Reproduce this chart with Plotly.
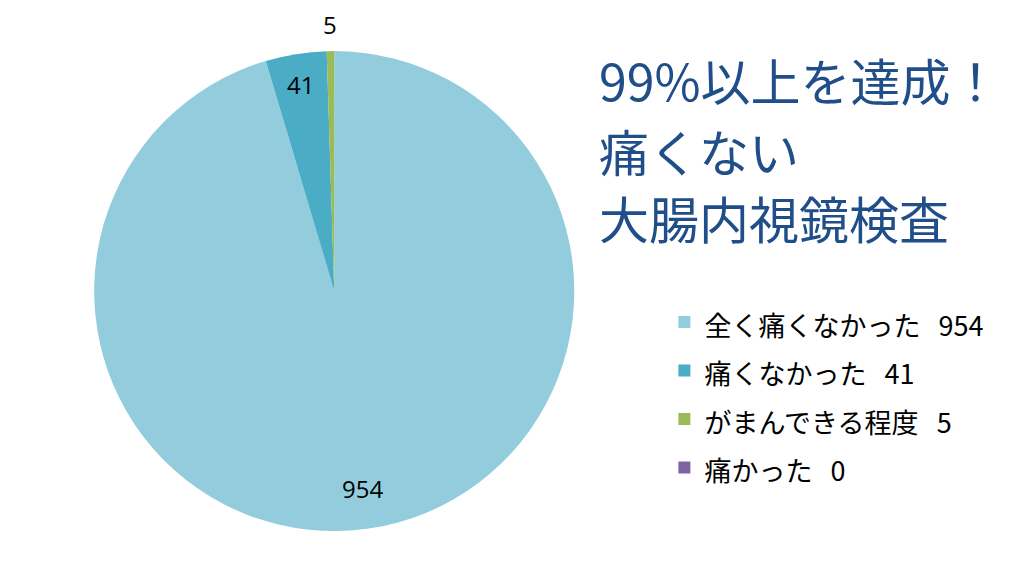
import math
import plotly.graph_objects as go

categories = ["全く痛くなかった", "痛くなかった", "がまんできる程度", "痛かった"]
values = [954, 41, 5, 0]
colors = ["#93CDDD", "#4BACC6", "#9BBB59", "#8064A2"]
label_radius = [0.83, 0.87, 1.11, None]   # where each slice's number sits (fraction of radius)
title_lines = ["99%以上を達成！", "痛くない", "大腸内視鏡検査"]

W, H = 1019, 583
NBSP = "\u00a0"
legend_labels = [
    f'<span style="font-size:27px">{c}{NBSP*3}{v}</span>' for c, v in zip(categories, values)
]

dom_x = [0.092, 0.564]
dom_y = [0.089, 0.9125]

fig = go.Figure()
fig.add_trace(go.Pie(
    labels=legend_labels,
    values=values,
    textinfo="none",
    marker=dict(colors=colors, line=dict(width=0)),
    sort=False,
    direction="clockwise",
    rotation=0,
    showlegend=True,
    domain=dict(x=dom_x, y=dom_y),
    hoverinfo="value",
))

# slice value labels, placed at each slice's mid-angle
cx = (dom_x[0] + dom_x[1]) / 2 * W
cy = (dom_y[0] + dom_y[1]) / 2 * H
R = min((dom_x[1] - dom_x[0]) * W, (dom_y[1] - dom_y[0]) * H) / 2
total = sum(values)
cum = 0
for v, rf in zip(values, label_radius):
    mid = (cum + v / 2) / total * 2 * math.pi
    cum += v
    if rf is None or v == 0:
        continue
    px = cx + rf * R * math.sin(mid)
    py = cy + rf * R * math.cos(mid)
    fig.add_annotation(
        text=str(v), x=px / W, y=py / H, xref="paper", yref="paper",
        xanchor="center", yanchor="middle", showarrow=False,
        font=dict(family="Open Sans, Noto Sans CJK JP", size=24, color="#000000"),
    )

title_y = [0.864, 0.742, 0.628]
for line, yy in zip(title_lines, title_y):
    fig.add_annotation(
        text=line, x=0.586, y=yy, xref="paper", yref="paper",
        xanchor="left", yanchor="middle", showarrow=False,
        font=dict(family="Noto Sans CJK JP", size=50, color="#1F4E89"),
    )

fig.update_layout(
    width=W, height=H,
    margin=dict(l=0, r=0, t=0, b=0),
    paper_bgcolor="white",
    plot_bgcolor="white",
    legend=dict(
        x=0.652, y=0.323, xanchor="left", yanchor="middle",
        font=dict(family="Noto Sans CJK JP", size=35, color="#000000"),
        bgcolor="rgba(0,0,0,0)",
    ),
)

fig.write_html(
    "out.html",
    config={"displayModeBar": False},
    post_script="document.body.style.margin='0px';",
)
